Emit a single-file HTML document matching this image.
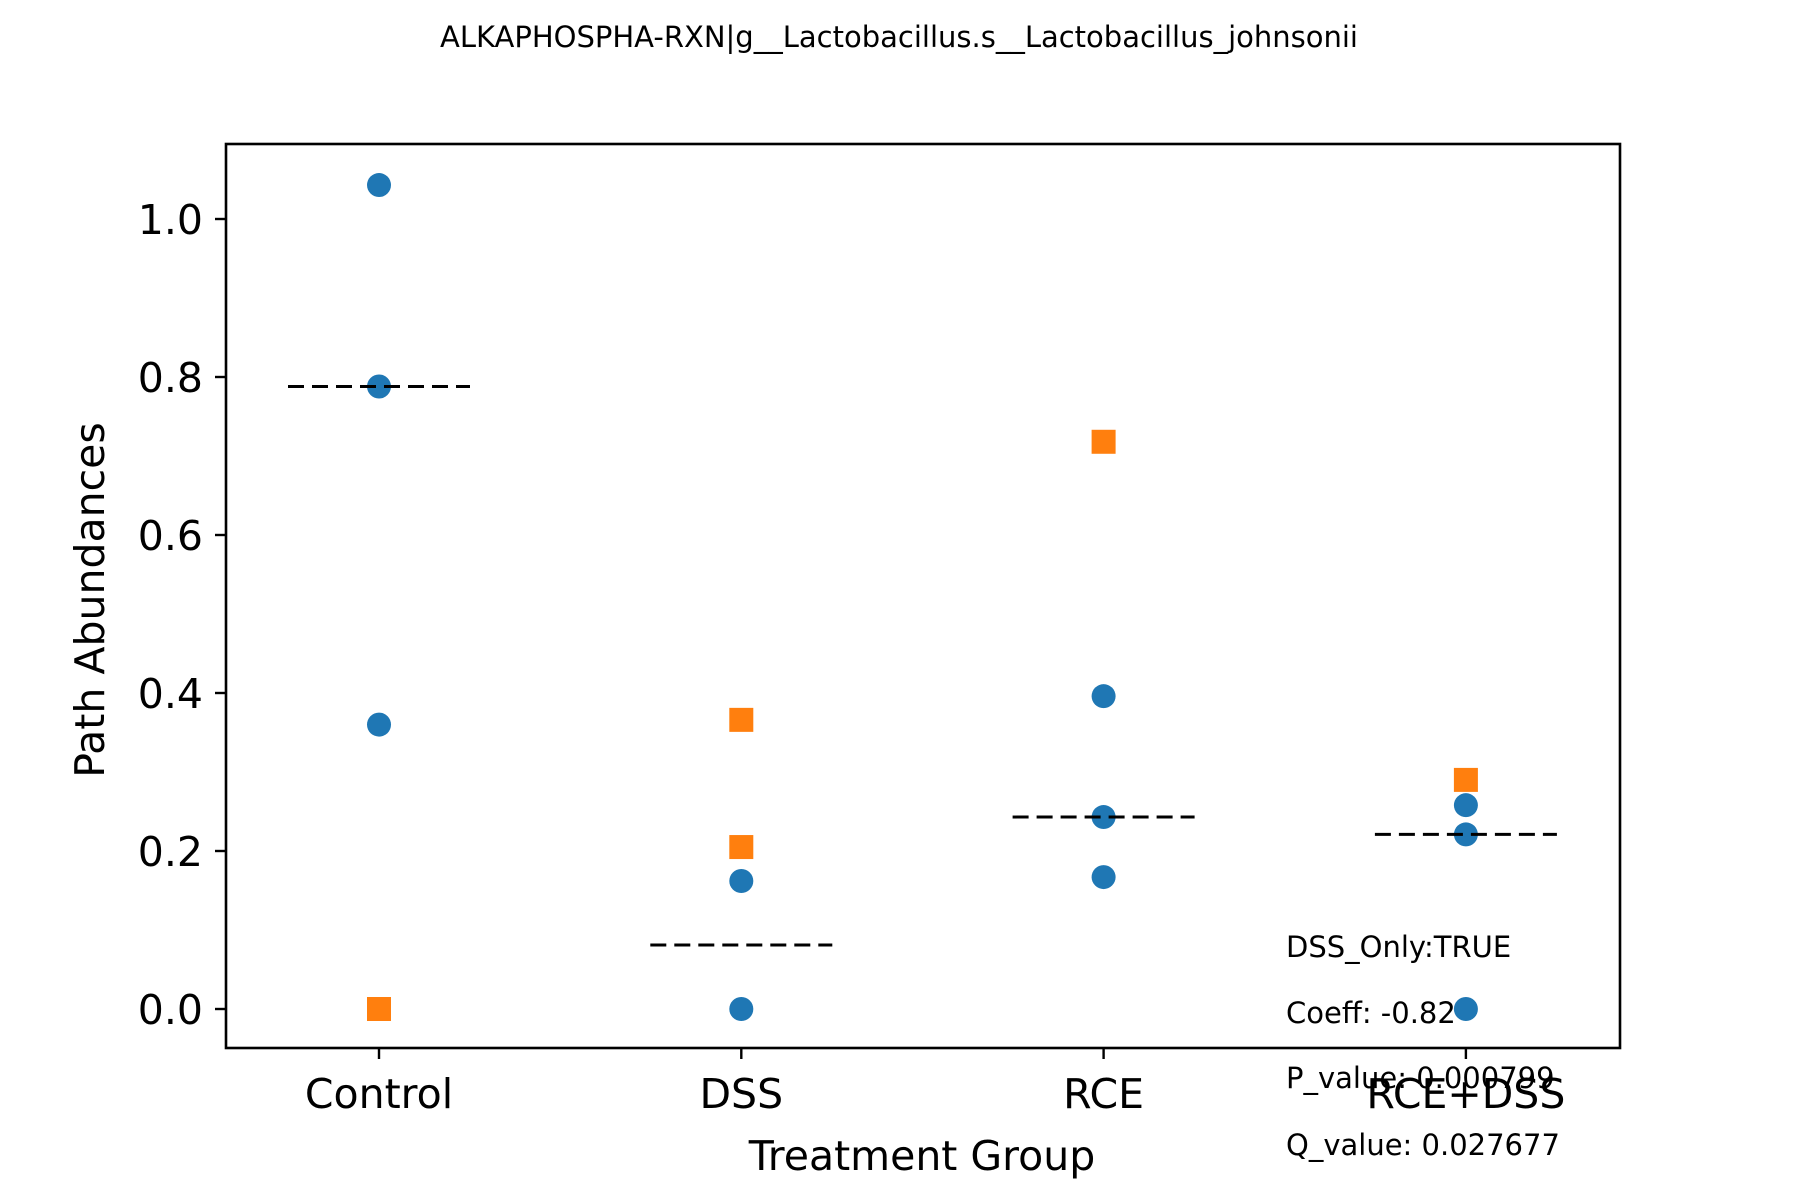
<!DOCTYPE html>
<html><head><meta charset="utf-8"><style>
html,body{margin:0;padding:0;background:#fff;}
svg{display:block;font-family:"DejaVu Sans","Liberation Sans",sans-serif;}
</style></head><body>
<svg id="chart" width="1800" height="1200" viewBox="0 0 1800 1200">
<rect width="1800" height="1200" fill="#fff"/>
<text x="899" y="47" font-size="29" text-anchor="middle">ALKAPHOSPHA-RXN|g__Lactobacillus.s__Lactobacillus_johnsonii</text>
<g id="marks"></g>
<g id="axes"></g>
<rect x="226" y="144" width="1394" height="904" fill="none" stroke="#000" stroke-width="2.6"/>
<text x="922" y="1170" font-size="41" text-anchor="middle">Treatment Group</text>
<text transform="translate(104,600) rotate(-90)" font-size="41" text-anchor="middle">Path Abundances</text>
<g font-size="29">
<text x="1286" y="957">DSS_Only:TRUE</text>
<text x="1286" y="1023">Coeff: -0.82</text>
<text x="1286" y="1088">P_value: 0.000799</text>
<text x="1286" y="1155">Q_value: 0.027677</text>
</g>
</svg>
<script>
const categories = ["Control","DSS","RCE","RCE+DSS"];
const circleValues = [[1.043,0.788,0.36],[0.162,0.0],[0.396,0.243,0.167],[0.258,0.221,0.0]];
const squareValues = [[0.0],[0.366,0.205],[0.718],[0.29]];
const medians = [0.788,0.081,0.243,0.221];
const yTicks = [0.0,0.2,0.4,0.6,0.8,1.0];
const yTickLabels = ["0.0","0.2","0.4","0.6","0.8","1.0"];

const NS="http://www.w3.org/2000/svg";
const X0=379, XSTEP=362.3;
function xScale(i){return X0+i*XSTEP;}
function yScale(v){return 1009-v*790;}
function mk(tag,attrs){const e=document.createElementNS(NS,tag);for(const k in attrs)e.setAttribute(k,attrs[k]);return e;}
const marks=document.getElementById('marks'), axes=document.getElementById('axes');

medians.forEach((m,i)=>{
  const l=mk('line',{x1:xScale(i)-91,x2:xScale(i)+91,y1:yScale(m),y2:yScale(m),stroke:'#000','stroke-width':3,'stroke-dasharray':'16,8'});
  
  
  marks.appendChild(l);
});
circleValues.forEach((arr,i)=>arr.forEach(v=>{
  const c=mk('circle',{cx:xScale(i),cy:yScale(v),r:12,fill:'#1f77b4'});
  
  
  marks.insertBefore(c,marks.firstChild);
}));
squareValues.forEach((arr,i)=>arr.forEach(v=>{
  const s=mk('rect',{x:xScale(i)-12,y:yScale(v)-12,width:24,height:24,fill:'#ff7f0e'});
  
  
  marks.insertBefore(s,marks.firstChild);
}));
yTicks.forEach((t,i)=>{
  const y=yScale(t);
  const tk=mk('line',{x1:215,x2:226,y1:y,y2:y,stroke:'#000','stroke-width':2.4});
  
  
  axes.appendChild(tk);
  const tx=mk('text',{x:203,y:y+15,'font-size':41,'text-anchor':'end'});
  tx.textContent=yTickLabels[i];
  
  
  axes.appendChild(tx);
});
categories.forEach((c,i)=>{
  const x=xScale(i);
  const tk=mk('line',{x1:x,x2:x,y1:1048,y2:1059,stroke:'#000','stroke-width':2.4});
  
  
  axes.appendChild(tk);
  const tx=mk('text',{x:x,y:1108,'font-size':41,'text-anchor':'middle'});
  tx.textContent=c;
  
  
  axes.appendChild(tx);
});
</script>
</body></html>
